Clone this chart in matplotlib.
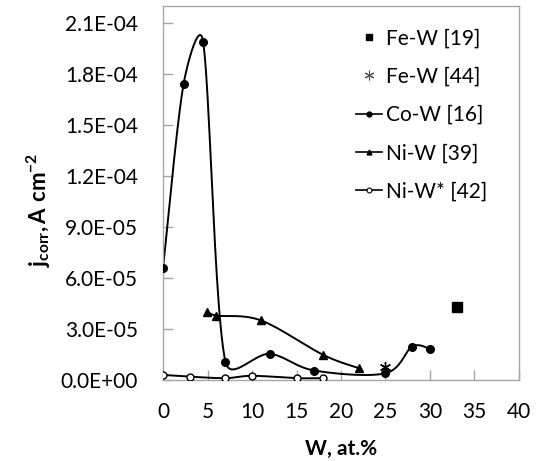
import numpy as np
import matplotlib.pyplot as plt
from matplotlib.lines import Line2D
from matplotlib.ticker import FuncFormatter, MultipleLocator

plt.rcParams['font.family'] = ['Lato', 'DejaVu Sans']
plt.rcParams['mathtext.fontset'] = 'custom'
plt.rcParams['mathtext.rm'] = 'Lato'
plt.rcParams['mathtext.bf'] = 'Lato:bold'
plt.rcParams['mathtext.it'] = 'Lato:italic'

# corrosion current density vs W content
few19_x = [33]
few19_y = [4.3e-5]

few44_x = [25]
few44_y = [7.5e-6]

cow16_x = [0, 2.3, 4.5, 7, 12, 17, 25, 28, 30]
cow16_y = [6.6e-5, 1.74e-4, 1.99e-4, 1.08e-5, 1.53e-5, 5.5e-6, 3.9e-6, 1.96e-5, 1.82e-5]

niw39_x = [4.9, 6, 11, 18, 22]
niw39_y = [4.0e-5, 3.78e-5, 3.5e-5, 1.47e-5, 6.9e-6]

niw42_x = [0, 3, 7, 10, 15, 18]
niw42_y = [2.9e-6, 1.9e-6, 1.0e-6, 2.4e-6, 1.0e-6, 1.0e-6]

XMAX, YMAX = 40, 2.2e-4
AX_W, AX_H = 356, 374  # axes size in pixels, used for the smoothing geometry


def smooth(xs, ys, n=40):
    # cubic Bezier through the points, control points at 1/6 of the
    # neighbour chord, capped at half the segment length (screen space)
    s = np.array([AX_W / XMAX, AX_H / YMAX])
    p = np.column_stack([xs, ys]).astype(float) * s
    p_ext = np.vstack([p[0], p, p[-1]])
    t = np.linspace(0, 1, n)[:, None]
    out = []
    for i in range(len(p) - 1):
        p0, p1, p2, p3 = p_ext[i], p_ext[i + 1], p_ext[i + 2], p_ext[i + 3]
        half = np.hypot(*(p2 - p1)) / 2
        o1 = (p2 - p0) / 6
        o2 = (p3 - p1) / 6
        n1, n2 = np.hypot(*o1), np.hypot(*o2)
        if n1 > half:
            o1 *= half / n1
        if n2 > half:
            o2 *= half / n2
        c1 = p1 + o1
        c2 = p2 - o2
        seg = ((1 - t) ** 3) * p1 + 3 * ((1 - t) ** 2) * t * c1 \
            + 3 * (1 - t) * t ** 2 * c2 + t ** 3 * p2
        out.append(seg if i == 0 else seg[1:])
    out = np.vstack(out) / s
    return out[:, 0], out[:, 1]


fig = plt.figure(figsize=(5.4, 4.61), dpi=100)
ax = fig.add_axes([0.302, 0.176, 0.659, 0.811])

lw = 1.4
for xs, ys in [(cow16_x, cow16_y), (niw39_x, niw39_y), (niw42_x, niw42_y)]:
    sx, sy = smooth(xs, ys)
    ax.plot(sx, sy, color='black', lw=lw, zorder=2)

ax.plot(cow16_x, cow16_y, 'o', color='black', ms=5.5, zorder=3)
ax.plot(niw39_x, niw39_y, '^', color='black', ms=5.5, zorder=3)
ax.plot(niw42_x, niw42_y, 'o', mfc='white', mec='black', mew=1.0, ms=5, zorder=3)
ax.plot(few19_x, few19_y, 's', color='black', ms=7.5, zorder=3)
ax.plot(few44_x, few44_y, marker=(6, 2, 0), color='black', ms=8, mew=1.0,
        linestyle='none', zorder=3)

ax.set_xlim(0, XMAX)
ax.set_ylim(0, YMAX)
ax.xaxis.set_major_locator(MultipleLocator(5))
ax.set_yticks(np.arange(0, 2.11e-4, 3e-5))
ax.yaxis.set_major_formatter(FuncFormatter(lambda v, pos: f'{v:.1E}'))
ax.tick_params(direction='in', length=7, width=1, color='#a6a6a6', labelsize=15)
ax.tick_params(axis='y', pad=18)
ax.tick_params(axis='x', pad=16)
for sp in ax.spines.values():
    sp.set_color('#a6a6a6')
    sp.set_linewidth(1.0)

ax.set_xlabel('W, at.%', fontsize=15, fontweight='bold', labelpad=12)
ax.set_ylabel(r'$\mathbf{j_{corr}, A\ cm^{-2}}$', fontsize=16)
ax.yaxis.set_label_coords(-0.31, 0.455)

handles = [
    Line2D([], [], linestyle='none', marker='s', color='black', ms=5),
    Line2D([], [], linestyle='none', marker=(6, 2, 0), color='#555555', ms=7, mew=0.8),
    Line2D([], [], color='black', lw=1.2, marker='o', ms=3.5),
    Line2D([], [], color='black', lw=1.2, marker='^', ms=3.5),
    Line2D([], [], color='black', lw=1.2, marker='o', mfc='white', ms=3.5, mew=0.8),
]
labels = ['Fe-W [19]', 'Fe-W [44]', 'Co-W [16]', 'Ni-W [39]', 'Ni-W* [42]']
ax.legend(handles, labels, loc='upper left', bbox_to_anchor=(0.542, 0.94),
          frameon=False, fontsize=15, handlelength=1.25, handletextpad=0.2,
          labelspacing=0.88, borderaxespad=0, borderpad=0)

fig.savefig('out.png', dpi=100)
